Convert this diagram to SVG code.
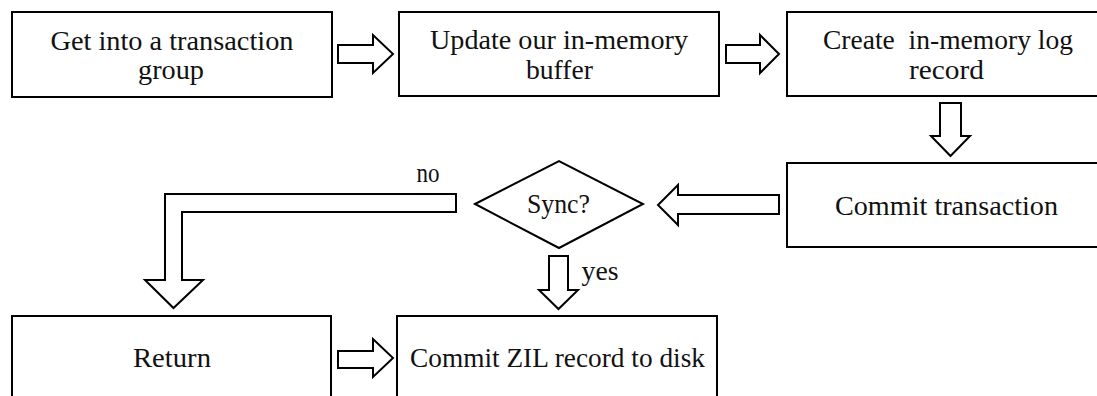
<svg xmlns="http://www.w3.org/2000/svg" width="1097" height="396" viewBox="0 0 1097 396">
  <style>
    .box { fill: #fff; stroke: #000; stroke-width: 2; }
    .arrow { fill: #fff; stroke: #000; stroke-width: 2; stroke-linejoin: miter; }
    .label { font-family: "Liberation Serif", "DejaVu Serif", serif; font-size: 27px; fill: #111; text-anchor: middle; }
  </style>
  <rect width="1097" height="396" fill="#fff"/>

  <g id="connectors">
    <polygon class="arrow" points="338,45 373,45 373,35 393,54 373,73 373,63 338,63"/>
    <polygon class="arrow" points="726,45 760,45 760,35 779,54 760,73 760,63 726,63"/>
    <polygon class="arrow" points="940,103 961,103 961,136 970,136 950.5,156 931,136 940,136"/>
    <polygon class="arrow" points="779,195 678,195 678,185 658,205 678,225 678,214 779,214"/>
    <polygon class="arrow" points="456,194 165,194 165,280 145,280 173.5,308 203,280 182,280 182,212 456,212"/>
    <polygon class="arrow" points="549,256 568,256 568,290 578,290 558.5,309 539,290 549,290"/>
    <polygon class="arrow" points="338,351 373,351 373,339 393,358 373,377 373,368 338,368"/>
    <text class="label" x="428" y="182" textLength="23" lengthAdjust="spacingAndGlyphs">no</text>
    <text class="label" x="600" y="280" textLength="37" lengthAdjust="spacingAndGlyphs">yes</text>
  </g>

  <g id="node-enter-txg">
    <rect class="box" x="12" y="12" width="320" height="85"/>
    <text class="label" x="172" y="50" textLength="243" lengthAdjust="spacingAndGlyphs">Get into a transaction</text>
    <text class="label" x="171" y="79" textLength="66" lengthAdjust="spacingAndGlyphs">group</text>
  </g>

  <g id="node-update-buffer">
    <rect class="box" x="399" y="12" width="320" height="84"/>
    <text class="label" x="559" y="49" textLength="258" lengthAdjust="spacingAndGlyphs">Update our in-memory</text>
    <text class="label" x="559.5" y="79" textLength="67" lengthAdjust="spacingAndGlyphs">buffer</text>
  </g>

  <g id="node-create-log">
    <rect class="box" x="787" y="12" width="320" height="84"/>
    <text class="label" x="948" y="49" textLength="250" lengthAdjust="spacingAndGlyphs" style="white-space:pre">Create  in-memory log</text>
    <text class="label" x="946.5" y="79" textLength="75" lengthAdjust="spacingAndGlyphs">record</text>
  </g>

  <g id="node-commit-tx">
    <rect class="box" x="787" y="163" width="320" height="84"/>
    <text class="label" x="946.5" y="215" textLength="223" lengthAdjust="spacingAndGlyphs">Commit transaction</text>
  </g>

  <g id="node-sync">
    <polygon class="box" points="475,204 559,161 643,204 559,248"/>
    <text class="label" x="558.5" y="213" textLength="63" lengthAdjust="spacingAndGlyphs">Sync?</text>
  </g>

  <g id="node-return">
    <rect class="box" x="12" y="316" width="319" height="110"/>
    <text class="label" x="172" y="367" textLength="78" lengthAdjust="spacingAndGlyphs">Return</text>
  </g>

  <g id="node-commit-zil">
    <rect class="box" x="397" y="316" width="320" height="110"/>
    <text class="label" x="557.5" y="367" textLength="295" lengthAdjust="spacingAndGlyphs">Commit ZIL record to disk</text>
  </g>
</svg>
